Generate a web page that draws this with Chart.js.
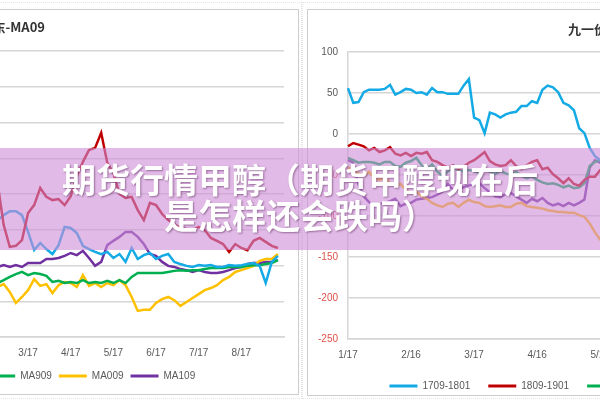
<!DOCTYPE html>
<html lang="zh">
<head>
<meta charset="UTF-8">
<title>期货行情甲醇</title>
<script src="https://cdn.jsdelivr.net/npm/chart.js@4.4.0/dist/chart.umd.min.js"></script>
<style>
  html, body { margin: 0; padding: 0; }
  body {
    width: 600px; height: 400px; overflow: hidden; position: relative;
    background: #fff; font-family: "Liberation Sans", sans-serif;
  }
  .frame { position: absolute; box-sizing: border-box; border: 1px dotted #e4e4e4; }
  .panel { position: absolute; box-sizing: border-box; border: 1px solid #cdcdcd; background: #fff; }
  canvas { position: absolute; }
  .title {
    position: absolute; white-space: nowrap;
    font-family: "Noto Sans CJK SC", sans-serif; font-weight: bold; font-size: 13px; color: #333;
  }
  .banner {
    position: absolute; left: 0; top: 148px; width: 600px; height: 102px;
    background: rgba(205, 140, 215, 0.6);
    box-sizing: border-box; padding-top: 13px;
    text-align: center; color: #fff;
    font-family: "Noto Sans CJK SC", sans-serif; font-weight: bold;
    font-size: 34px; line-height: 36px;
    text-shadow: 1px 1px 2px rgba(90, 40, 90, 0.55);
  }
</style>
</head>
<body>
  <div class="frame" style="left:-10px; top:2px; width:312px; height:397px;"></div>
  <div class="frame" style="left:302px; top:2px; width:400px; height:397px;"></div>
  <div class="panel" style="left:-10px; top:9px; width:309px; height:386px;"></div>
  <div class="panel" style="left:307px; top:9px; width:400px; height:387px;"></div>

  <canvas id="left" width="543" height="385" style="left:-245px; top:9px;"></canvas>
  <canvas id="right" width="654" height="392" style="left:308px; top:9px;"></canvas>

  <div class="title" style="left:-60px; width:105px; top:17px; text-align:right;">华东-MA09</div>
  <div class="title" style="left:568px; top:19px;">九一价差</div>

  <div class="banner">期货行情甲醇（期货甲醇现在后<br>是怎样还会跌吗）</div>

<script>
// ---- left chart: basis vs MA09 (points ~ every 4 days) ----
const leftNames = ['MA709', 'MA809', 'MA909', 'MA009', 'MA109'];
const leftTicks = ['3/17', '4/17', '5/17', '6/17', '7/17', '8/17'];
const leftRed = [30,-87,-148,-145,-129,-53,-31,17,-8,-17,-14,-31,-6,50,90,123,129,171,87,59,0,-11,-8,-45,-73,-25,-31,-56,-73,-84,-95,-98,-101,-92,-101,-123,-131,-140,-162,-140,-151,-157,-131,-123,-134,-145,-151,-162];
const leftBlue = [-73,-59,-48,-48,-59,-106,-157,-137,-154,-168,-143,-92,-95,-109,-145,-154,-162,-168,-162,-179,-168,-190,-151,-182,-171,-165,-182,-173,-168,-190,-196,-201,-204,-199,-201,-199,-204,-204,-199,-201,-199,-196,-193,-201,-249,-190,-173,-165];
const leftGreen = [-249,-241,-232,-224,-218,-227,-221,-224,-229,-246,-243,-249,-246,-249,-241,-249,-246,-249,-243,-249,-241,-249,-232,-221,-221,-221,-221,-221,-218,-215,-213,-215,-213,-213,-210,-207,-207,-207,-204,-204,-204,-201,-199,-199,-196,-193,-185,-176];
const leftYellow = [-260,-252,-274,-305,-288,-269,-238,-257,-252,-277,-255,-246,-249,-260,-227,-257,-249,-260,-249,-255,-241,-255,-288,-327,-324,-324,-305,-294,-288,-297,-313,-302,-291,-280,-269,-263,-255,-241,-232,-218,-213,-207,-201,-187,-182,-182,-168,-291];
const leftPurple = [-204,-199,-204,-199,-204,-193,-193,-193,-182,-182,-179,-173,-165,-171,-159,-179,-201,-190,-143,-131,-120,-106,-106,-120,-140,-168,-173,-190,-201,-204,-210,-213,-218,-213,-218,-221,-221,-218,-213,-207,-204,-196,-193,-193,-190,-190,-185,-179];

// ---- right chart: 9-1 spread ----
const rightNames = ['1709-1801', '1809-1901', '1909-2001', '2009-2101', '2109-2201'];
const rightTicks = ['1/17', '2/16', '3/17', '4/16', '5/16', '6/15', '7/17', '8/16', '9/15', '10/17'];
const rightBlue = [56,38,39,51,54,54,54,55,60,48,51,55,54,50,51,48,56,51,51,49,49,49,59,67,20,17,1,26,24,20,24,26,27,34,34,40,38,54,59,57,51,38,35,29,7,1,-17,-27,-32,-34];
const rightRed = [-15,-11,-13,-15,-20,-17,-22,-20,-16,-24,-26,-23,-27,-23,-24,-22,-32,-34,-38,-41,-38,-43,-40,-35,-32,-27,-22,-33,-37,-39,-38,-32,-39,-43,-38,-34,-32,-43,-41,-49,-54,-60,-54,-61,-63,-56,-52,-52,-44,-41];
const rightGreen = [-29,-32,-35,-34,-34,-35,-37,-34,-34,-39,-40,-35,-33,-29,-38,-43,-37,-46,-51,-46,-41,-44,-46,-44,-45,-48,-44,-46,-49,-45,-48,-50,-46,-51,-54,-52,-56,-59,-61,-60,-62,-65,-63,-66,-65,-60,-39,-34,-32,-29];
const rightYellow = [-41,-44,-48,-51,-46,-54,-56,-52,-60,-63,-61,-68,-72,-70,-76,-79,-84,-87,-89,-85,-84,-89,-84,-80,-83,-84,-88,-89,-88,-87,-89,-89,-85,-84,-88,-89,-90,-91,-93,-94,-95,-95,-96,-96,-99,-101,-109,-120,-129,-135];
const rightPurple = [-32,-35,-62,-76,-83,-88,-85,-84,-82,-79,-88,-85,-84,-80,-79,-78,-77,-74,-70,-61,-68,-67,-65,-63,-61,-60,-66,-71,-76,-77,-73,-72,-76,-80,-84,-79,-82,-78,-84,-87,-85,-88,-84,-87,-84,-80,-41,-32,-35,-38];

const RED = '#c00000', BLUE = '#14aae6', GREEN = '#00b050', YELLOW = '#ffc000', PURPLE = '#7030a0';
const gridColor = '#d6d6d6';
const textColor = '#595959';
const font = { family: 'Liberation Sans', size: 10 };

function lineSets(names, series, palette) {
  return series.map((data, i) => ({
    label: names[i], data,
    borderColor: palette[i], backgroundColor: palette[i],
    borderWidth: 2.5, pointRadius: 0, tension: 0
  }));
}

function legendOpts(pad) {
  return {
    position: 'bottom',
    labels: {
      boxWidth: 28, boxHeight: 3, padding: pad, color: textColor, font,
      generateLabels: c => Chart.defaults.plugins.legend.labels.generateLabels(c)
        .map(l => Object.assign(l, { lineWidth: 0 }))
    }
  };
}

// left: 48 points, tick every 7 points starting at index 5
const leftLabels = Array.from({ length: 48 }, (_, i) =>
  i >= 5 && (i - 5) % 7 === 0 ? leftTicks[(i - 5) / 7] : '');

new Chart(document.getElementById('left'), {
  type: 'line',
  data: {
    labels: leftLabels,
    datasets: lineSets(leftNames, [leftRed, leftBlue, leftGreen, leftYellow, leftPurple],
      [RED, BLUE, GREEN, YELLOW, PURPLE])
  },
  options: {
    responsive: false, animation: false, devicePixelRatio: 1,
    layout: { padding: { top: 42, right: 14, bottom: 3, left: 0 } },
    plugins: { legend: legendOpts(7), tooltip: { enabled: false } },
    scales: {
      x: {
        grid: { display: false, drawTicks: false },
        border: { color: gridColor, width: 1.5 },
        ticks: { autoSkip: false, maxRotation: 0, minRotation: 0, padding: 10, color: textColor, font },
        afterFit: s => { s.height = 27; }
      },
      y: {
        min: -400, max: 400,
        ticks: { display: false, stepSize: 100 },
        grid: { color: gridColor, lineWidth: 1.5, drawTicks: false },
        border: { display: false },
        afterFit: s => { s.width = 242.6; }
      }
    }
  }
});

// right: point ~ every 2.5 days, tick every 12 points; axis runs on past the crop
const rightLabels = Array.from({ length: 115 }, (_, i) =>
  i % 12 === 0 ? rightTicks[i / 12] : '');

new Chart(document.getElementById('right'), {
  type: 'line',
  data: {
    labels: rightLabels,
    datasets: lineSets(rightNames, [rightBlue, rightRed, rightGreen, rightYellow, rightPurple],
      [BLUE, RED, GREEN, YELLOW, PURPLE])
  },
  options: {
    responsive: false, animation: false, devicePixelRatio: 1,
    layout: { padding: { top: 43, right: 15, bottom: 0, left: 0 } },
    plugins: { legend: legendOpts(18), tooltip: { enabled: false } },
    scales: {
      x: {
        grid: { display: false, drawTicks: false },
        border: { color: gridColor, width: 1.5 },
        ticks: { autoSkip: false, maxRotation: 0, minRotation: 0, padding: 10, color: textColor, font },
        afterFit: s => { s.height = 24; }
      },
      y: {
        min: -250, max: 100,
        ticks: {
          stepSize: 50, padding: 10, font,
          color: ctx => ctx.tick.value < 0 ? '#e0504a' : textColor
        },
        grid: { color: gridColor, lineWidth: 1.5, drawTicks: false },
        border: { color: gridColor, width: 1.5 },
        afterFit: s => { s.width = 40; }
      }
    }
  }
});
</script>
</body>
</html>
